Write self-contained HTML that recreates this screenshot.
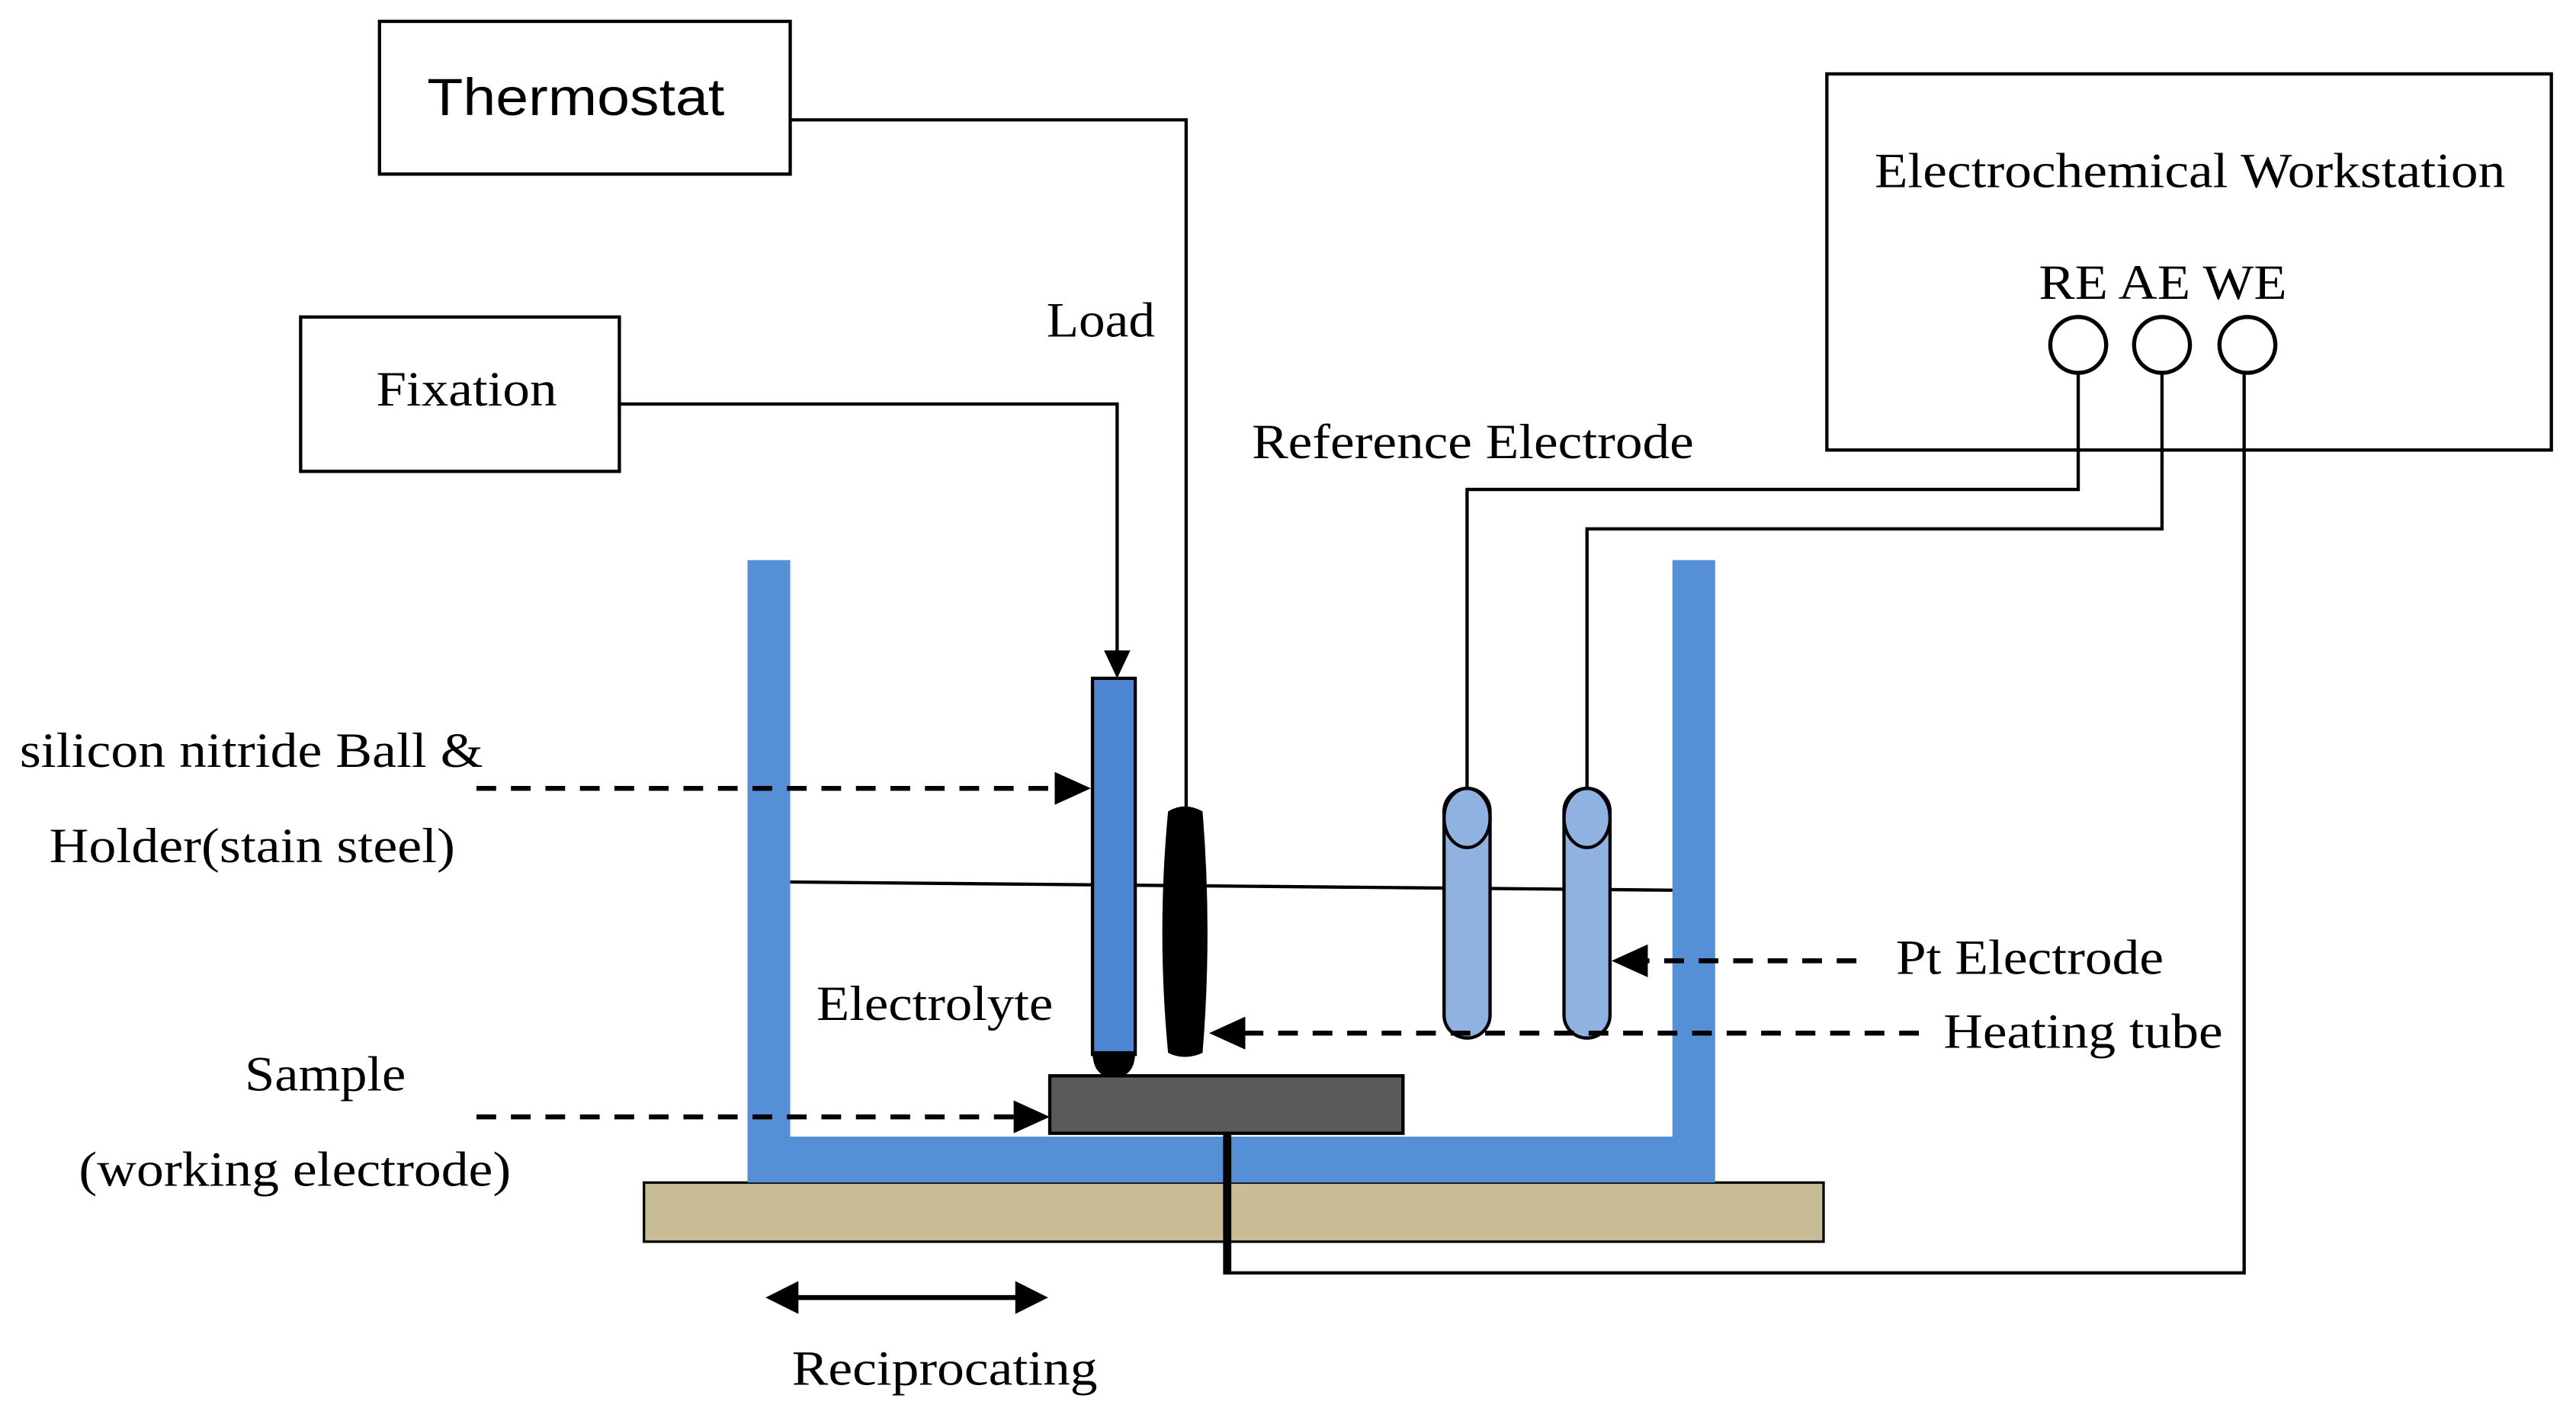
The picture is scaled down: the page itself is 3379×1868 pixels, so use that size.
<!DOCTYPE html>
<html><head><style>html,body{margin:0;padding:0;background:#fff}svg{display:block}</style></head>
<body>
<svg width="3379" height="1868" viewBox="0 0 1568 867" preserveAspectRatio="none" xmlns="http://www.w3.org/2000/svg">
<g font-family="'Liberation Serif',serif" font-size="30" fill="#000">
<rect x="231" y="13" width="250" height="93" fill="none" stroke="#000" stroke-width="2"/>
<text x="260" y="70" textLength="181" lengthAdjust="spacingAndGlyphs" font-family="'Liberation Sans',sans-serif" font-size="32">Thermostat</text>
<rect x="183" y="193" width="194" height="94" fill="none" stroke="#000" stroke-width="2"/>
<text x="229" y="247" textLength="110" lengthAdjust="spacingAndGlyphs">Fixation</text>
<rect x="1112" y="45" width="441" height="229" fill="none" stroke="#000" stroke-width="2"/>
<text x="1141" y="114" textLength="384" lengthAdjust="spacingAndGlyphs">Electrochemical Workstation</text>
<text x="1241" y="182" textLength="151" lengthAdjust="spacingAndGlyphs">RE AE WE</text>
<g fill="#fff" stroke="#000" stroke-width="2.5">
<circle cx="1265" cy="210" r="17"/><circle cx="1316" cy="210" r="17"/><circle cx="1368" cy="210" r="17"/>
</g>
<g fill="none" stroke="#000" stroke-width="2">
<polyline points="481,73 722,73 722,492"/>
<polyline points="377,246 680,246 680,398"/>
<polyline points="1265,227 1265,298 893,298 893,480"/>
<polyline points="1316,227 1316,322 966,322 966,480"/>
<polyline points="747,775 1366,775 1366,227"/>
</g>
<path d="M672,396 L688,396 L680,413z"/>
<text x="637" y="205" textLength="66" lengthAdjust="spacingAndGlyphs">Load</text>
<text x="762" y="279" textLength="269" lengthAdjust="spacingAndGlyphs">Reference Electrode</text>
<rect x="392" y="720" width="718" height="36" fill="#c7bc96" stroke="#000" stroke-width="1.5"/>
<path d="M455,341 H481 V692 H1018 V341 H1044 V720 H455z" fill="#5590d6"/>
<line x1="481" y1="537" x2="1018" y2="542" stroke="#000" stroke-width="2"/>
<path d="M665,640 Q665,656 678,656 Q691,656 691,640z" fill="#000"/>
<rect x="665" y="413" width="26" height="229" fill="#4d87d4" stroke="#000" stroke-width="2"/>
<rect x="666" y="640" width="24" height="6" fill="#000"/>
<path d="M711,494 Q721,488 732,494 Q738,568 732,641 Q721,646 711,641 Q704,568 711,494z" fill="#000"/>
<g stroke="#000" stroke-width="2">
<rect x="879" y="480" width="28" height="152" rx="14" fill="#8fb2e0"/>
<ellipse cx="893" cy="498" rx="14" ry="18" fill="#8fb2e0"/>
<rect x="952" y="480" width="28" height="152" rx="14" fill="#8fb2e0"/>
<ellipse cx="966" cy="498" rx="14" ry="18" fill="#8fb2e0"/>
</g>
<rect x="639" y="655" width="215" height="35" fill="#5a5a5a" stroke="#000" stroke-width="2"/>
<line x1="747" y1="690" x2="747" y2="776" stroke="#000" stroke-width="5"/>
<g stroke="#000" stroke-width="3" stroke-dasharray="12,9" fill="none">
<line x1="290" y1="480" x2="645" y2="480"/>
<line x1="290" y1="680" x2="620" y2="680"/>
<line x1="1130" y1="585" x2="1000" y2="585"/>
<line x1="1168" y1="629" x2="755" y2="629"/>
</g>
<path d="M642,470 L664,480 L642,490z"/>
<path d="M617,670 L639,680 L617,690z"/>
<path d="M1003,575 L981,585 L1003,595z"/>
<path d="M758,619 L736,629 L758,639z"/>
<line x1="480" y1="790" x2="624" y2="790" stroke="#000" stroke-width="3"/>
<path d="M466,790 L486,780 L486,800z"/>
<path d="M638,790 L618,780 L618,800z"/>
<text x="482" y="843" textLength="186" lengthAdjust="spacingAndGlyphs">Reciprocating</text>
<text x="12" y="467" textLength="282" lengthAdjust="spacingAndGlyphs">silicon nitride Ball &amp;</text>
<text x="30" y="525" textLength="247" lengthAdjust="spacingAndGlyphs">Holder(stain steel)</text>
<text x="497" y="621" textLength="144" lengthAdjust="spacingAndGlyphs">Electrolyte</text>
<text x="149" y="664" textLength="98" lengthAdjust="spacingAndGlyphs">Sample</text>
<text x="48" y="722" textLength="263" lengthAdjust="spacingAndGlyphs">(working electrode)</text>
<text x="1154" y="593" textLength="163" lengthAdjust="spacingAndGlyphs">Pt Electrode</text>
<text x="1183" y="638" textLength="170" lengthAdjust="spacingAndGlyphs">Heating tube</text>
</g>
</svg>
</body></html>
